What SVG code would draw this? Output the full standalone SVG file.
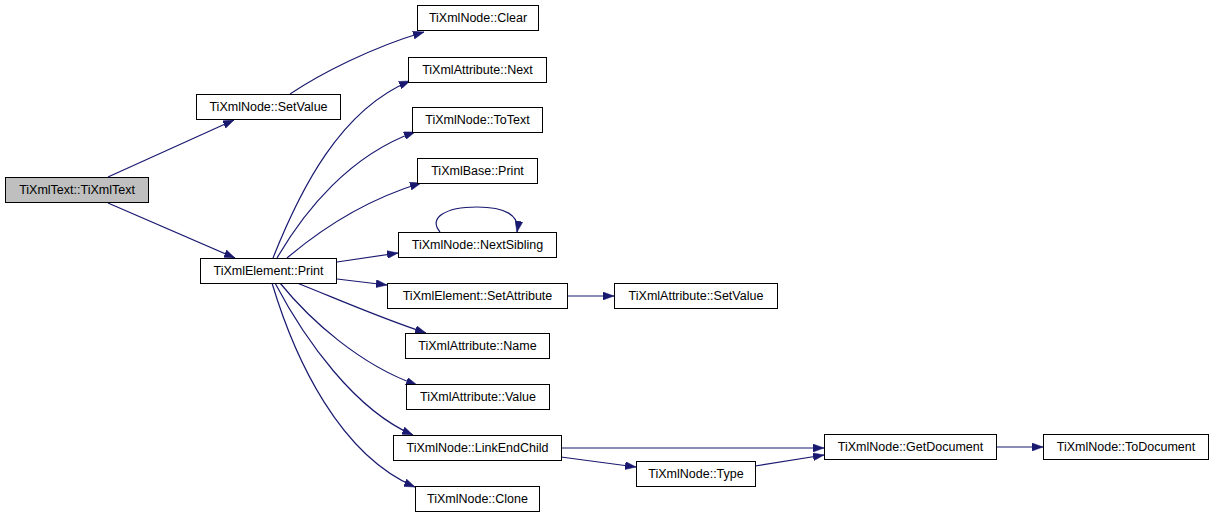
<svg xmlns="http://www.w3.org/2000/svg" width="1213" height="517" viewBox="0 0 1213 517">
<style>
.n rect{fill:#fff;stroke:#000;stroke-width:1}
.n text{font-family:"Liberation Sans",Arial,sans-serif;font-size:12.5px;fill:#000;text-anchor:middle}
.e path{fill:none;stroke:#191970;stroke-width:1.2}
</style>
<defs>
<marker id="ah" viewBox="0 0 11 8" refX="11" refY="4" markerWidth="11" markerHeight="8" markerUnits="userSpaceOnUse" orient="auto">
<path d="M0,0 L11,4 L0,8 z" fill="#191970" stroke="#191970" stroke-width="0.5"/>
</marker>
</defs>
<rect width="1213" height="517" fill="#fff"/>
<g class="e" id="edges">
<path d="M108,177 L234,120" marker-end="url(#ah)"/>
<path d="M108,203 L235,258" marker-end="url(#ah)"/>
<path d="M290,94 C320,74 370,48 424,32" marker-end="url(#ah)"/>
<path d="M273,258 C300,190 340,110 410,81" marker-end="url(#ah)"/>
<path d="M277,258 C305,210 350,155 415,132" marker-end="url(#ah)"/>
<path d="M287,258 C320,230 365,200 421,183" marker-end="url(#ah)"/>
<path d="M337,262 L398,253" marker-end="url(#ah)"/>
<path d="M440,232 C428,218 445,207 477,207 C505,207 520,215 517,232" marker-end="url(#ah)"/>
<path d="M337,279 L387,285" marker-end="url(#ah)"/>
<path d="M567,296 L614,296" marker-end="url(#ah)"/>
<path d="M297,283 C335,298 380,318 426,333" marker-end="url(#ah)"/>
<path d="M280,283 C310,320 360,365 417,385" marker-end="url(#ah)"/>
<path d="M275,283 C305,340 355,410 413,435" marker-end="url(#ah)"/>
<path d="M272,283 C295,360 340,455 415,487" marker-end="url(#ah)"/>
<path d="M561,448 L824,448" marker-end="url(#ah)"/>
<path d="M561,457 L636,467" marker-end="url(#ah)"/>
<path d="M755,466 L824,455" marker-end="url(#ah)"/>
<path d="M996,447 L1043,447" marker-end="url(#ah)"/>
</g>
<g class="n" id="n_text"><rect x="5.5" y="177.5" width="143" height="25" style="fill:#bfbfbf"/><text x="77" y="194">TiXmlText::TiXmlText</text></g>
<g class="n" id="n_setvalue"><rect x="196.5" y="94.5" width="144" height="25"/><text x="268.5" y="111">TiXmlNode::SetValue</text></g>
<g class="n" id="n_print"><rect x="200.5" y="258.5" width="136" height="25"/><text x="268.5" y="275">TiXmlElement::Print</text></g>
<g class="n" id="n_clear"><rect x="417.5" y="5.5" width="121" height="25"/><text x="478" y="22">TiXmlNode::Clear</text></g>
<g class="n" id="n_next"><rect x="408.5" y="57.5" width="138" height="25"/><text x="477.5" y="74">TiXmlAttribute::Next</text></g>
<g class="n" id="n_totext"><rect x="412.5" y="107.5" width="130" height="25"/><text x="477.5" y="124">TiXmlNode::ToText</text></g>
<g class="n" id="n_baseprint"><rect x="417.5" y="158.5" width="120" height="25"/><text x="477.5" y="175">TiXmlBase::Print</text></g>
<g class="n" id="n_nextsibling"><rect x="398.5" y="232.5" width="158" height="25"/><text x="477.5" y="249">TiXmlNode::NextSibling</text></g>
<g class="n" id="n_setattribute"><rect x="387.5" y="283.5" width="180" height="25"/><text x="477.5" y="300">TiXmlElement::SetAttribute</text></g>
<g class="n" id="n_attrsetvalue"><rect x="614.5" y="283.5" width="163" height="25"/><text x="696" y="300">TiXmlAttribute::SetValue</text></g>
<g class="n" id="n_name"><rect x="405.5" y="333.5" width="144" height="25"/><text x="477.5" y="350">TiXmlAttribute::Name</text></g>
<g class="n" id="n_value"><rect x="406.5" y="384.5" width="143" height="25"/><text x="478" y="401">TiXmlAttribute::Value</text></g>
<g class="n" id="n_linkendchild"><rect x="393.5" y="435.5" width="168" height="25"/><text x="477.5" y="452">TiXmlNode::LinkEndChild</text></g>
<g class="n" id="n_clone"><rect x="415.5" y="486.5" width="124" height="25"/><text x="477.5" y="503">TiXmlNode::Clone</text></g>
<g class="n" id="n_type"><rect x="636.5" y="461.5" width="119" height="25"/><text x="696" y="478">TiXmlNode::Type</text></g>
<g class="n" id="n_getdocument"><rect x="824.5" y="434.5" width="172" height="25"/><text x="910.5" y="451">TiXmlNode::GetDocument</text></g>
<g class="n" id="n_todocument"><rect x="1043.5" y="434.5" width="165" height="25"/><text x="1126" y="451">TiXmlNode::ToDocument</text></g>
</svg>
